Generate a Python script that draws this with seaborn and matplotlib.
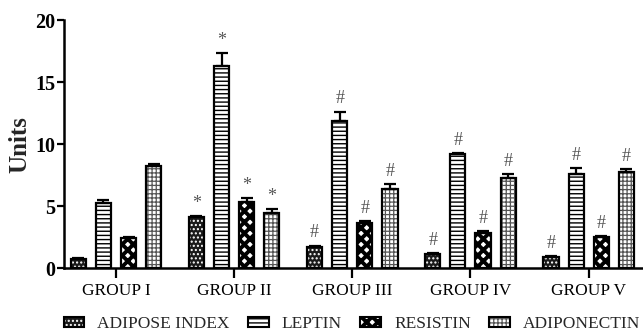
import matplotlib
matplotlib.use("Agg")
import matplotlib as mpl
import matplotlib.pyplot as plt
import seaborn as sns
import pandas as pd
from matplotlib.patches import Patch, Rectangle
from matplotlib.legend_handler import HandlerTuple, HandlerPatch

groups = ["GROUP I", "GROUP II", "GROUP III", "GROUP IV", "GROUP V"]
markers = ["ADIPOSE INDEX", "LEPTIN", "RESISTIN", "ADIPONECTIN"]

adipose_index = [0.70, 4.09, 1.67, 1.15, 0.89]
adipose_err = [0.08, 0.10, 0.15, 0.06, 0.06]
leptin = [5.22, 16.29, 11.83, 9.19, 7.63]
leptin_err = [0.27, 1.07, 0.80, 0.10, 0.43]
resistin = [2.42, 5.30, 3.65, 2.85, 2.53]
resistin_err = [0.10, 0.35, 0.17, 0.15, 0.08]
adiponectin = [8.23, 4.41, 6.37, 7.23, 7.77]
adiponectin_err = [0.15, 0.37, 0.40, 0.38, 0.20]
significance = ["", "*", "#", "#", "#"]

values = [adipose_index, leptin, resistin, adiponectin]
errors = [adipose_err, leptin_err, resistin_err, adiponectin_err]

df = pd.DataFrame({
    "group": [g for _ in markers for g in groups],
    "marker": [m for m in markers for _ in groups],
    "value": [v for vals in values for v in vals],
})

sns.set_style("ticks")
plt.rcParams["font.family"] = ["Liberation Serif", "DejaVu Serif"]

# fill / hatch per marker: (face, hatch, hatch colour, hatch width)
styles = {
    "ADIPOSE INDEX": ("#1a1a1a", "....", "white", 1.0),
    "LEPTIN": ("white", "----", "black", 1.0),
    "RESISTIN": ("white", "xxx", "black", 2.8),
    "ADIPONECTIN": ("white", "++++", "#555555", 0.9),
}


class HatchRect(Rectangle):
    """Rectangle whose hatch is drawn with its own line width."""

    def __init__(self, *args, hatch_lw=1.0, **kw):
        with mpl.rc_context({"hatch.linewidth": hatch_lw}):
            super().__init__(*args, **kw)
        self.hatch_lw = hatch_lw

    def draw(self, renderer):
        with mpl.rc_context({"hatch.linewidth": self.hatch_lw}):
            super().draw(renderer)


def hatched_rect(xy, w, h, marker, **kw):
    face, hatch, hcol, hlw = styles[marker]
    return HatchRect(xy, w, h, facecolor=face, edgecolor=hcol, hatch=hatch,
                     linewidth=0, hatch_lw=hlw, **kw)


def legend_patch(legend, orig_handle, xdescent, ydescent, width, height, fontsize):
    return HatchRect((-xdescent, -ydescent), width, height,
                     hatch_lw=orig_handle.hatch_lw)


fig = plt.figure(figsize=(6.43, 3.31), dpi=100)
ax = fig.add_axes([0.0995, 0.190, 0.9005, 0.7492])

sns.barplot(data=df, x="group", y="value", hue="marker", order=groups,
            hue_order=markers, width=0.85, gap=0.4, errorbar=None,
            palette=dict(zip(markers, ["white"] * 4)), saturation=1,
            edgecolor="black", linewidth=1.5, legend=False, ax=ax)

for container, marker, vals, errs in zip(ax.containers, markers, values, errors):
    xs = []
    for bar in container:
        bar.set_visible(False)
        z = bar.get_zorder()
        ax.add_patch(hatched_rect(bar.get_xy(), bar.get_width(), bar.get_height(),
                                  marker, zorder=z))
        ax.add_patch(Rectangle(bar.get_xy(), bar.get_width(), bar.get_height(),
                               fill=False, edgecolor="black", lw=1.6,
                               zorder=z + 0.1))
        xs.append(bar.get_x() + bar.get_width() / 2)
    ax.errorbar(xs, vals, yerr=[[0] * len(errs), errs], fmt="none",
                ecolor="black", elinewidth=1.6, capsize=4, capthick=1.6,
                zorder=4)
    for x, v, e, s in zip(xs, vals, errs, significance):
        if s:
            ax.annotate(s, (x, v + e), xytext=(0, 3), textcoords="offset points",
                        ha="center", va="bottom", fontsize=13, color="#555555")

ax.set_xlim(-0.44, 4.46)
ax.set_ylim(0, 20)
ax.set_yticks([0, 5, 10, 15, 20])
ax.set_xlabel("")
ax.set_ylabel("Units", fontsize=18, fontweight="bold", labelpad=3)
for lab in ax.get_yticklabels():
    lab.set_fontweight("bold")
    lab.set_fontsize(14.5)
for lab in ax.get_xticklabels():
    lab.set_fontsize(12.5)

sns.despine(ax=ax)
for side in ("left", "bottom"):
    ax.spines[side].set_linewidth(1.8)
    ax.spines[side].set_color("black")
ax.tick_params(axis="y", width=1.6, length=5, pad=1, colors="black")
ax.tick_params(axis="x", width=1.6, length=7, pad=4, colors="black")

handles = []
for m in markers:
    fill = hatched_rect((0, 0), 1, 1, m)
    border = Patch(facecolor="none", edgecolor="black", linewidth=1.5)
    handles.append((fill, border))
fig.legend(handles, markers, loc="center", bbox_to_anchor=(352 / 643, 7 / 331),
           bbox_transform=fig.transFigure, ncol=4, frameon=False,
           handlelength=1.2, handleheight=0.55, columnspacing=1.05,
           handletextpad=0.75, fontsize=12.5, borderpad=0,
           handler_map={tuple: HandlerTuple(ndivide=1, pad=0),
                        HatchRect: HandlerPatch(patch_func=legend_patch)})

fig.savefig("out.png", dpi=100)
